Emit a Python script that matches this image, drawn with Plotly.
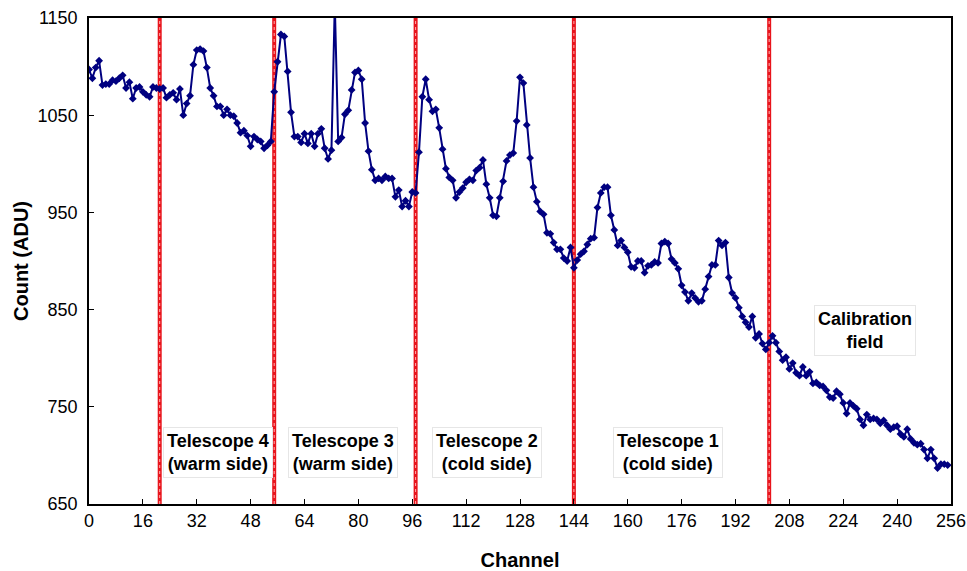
import plotly.graph_objects as go

# Count (ADU) per channel 0..255
counts = [
    1097, 1088, 1099, 1106, 1081, 1082, 1082, 1086, 1085, 1088,
    1091, 1078, 1084, 1067, 1078, 1079, 1074, 1071, 1069, 1079,
    1078, 1077, 1078, 1068, 1071, 1073, 1066, 1077, 1050, 1062,
    1070, 1102, 1117, 1118, 1116, 1099, 1078, 1070, 1059, 1059,
    1050, 1056, 1050, 1049, 1042, 1032, 1034, 1029, 1018, 1028,
    1025, 1023, 1016, 1019, 1023, 1074, 1105, 1133, 1131, 1095,
    1053, 1028, 1028, 1022, 1031, 1021, 1031, 1018, 1031, 1036,
    1016, 1005, 1014, 1165, 1023, 1027, 1051, 1055, 1076, 1094,
    1096, 1087, 1042, 1013, 994, 983, 985, 983, 987, 985,
    985, 966, 973, 956, 962, 956, 971, 970, 1012, 1069,
    1087, 1066, 1054, 1056, 1037, 1015, 995, 986, 983, 965,
    971, 975, 981, 984, 983, 993, 996, 1004, 979, 965,
    947, 946, 965, 982, 1003, 1009, 1011, 1044, 1089, 1083,
    1040, 1006, 976, 961, 951, 948, 929, 928, 919, 912,
    912, 903, 900, 914, 893, 901, 907, 910, 917, 923,
    924, 955, 970, 976, 976, 947, 932, 916, 921, 914,
    909, 894, 893, 900, 900, 888, 895, 896, 899, 898,
    918, 920, 918, 902, 898, 892, 875, 868, 859, 867,
    862, 858, 859, 871, 884, 896, 896, 921, 916, 919,
    883, 867, 862, 852, 843, 837, 832, 843, 821, 825,
    815, 809, 816, 823, 816, 807, 798, 801, 789, 795,
    785, 782, 791, 782, 786, 774, 775, 772, 771, 767,
    760, 759, 766, 763, 754, 743, 754, 751, 748, 737,
    731, 742, 737, 738, 737, 733, 736, 731, 727, 729,
    730, 722, 719, 727, 717, 713, 711, 712, 706, 697,
    706, 697, 687, 691, 691, 690,
]
channels = list(range(len(counts)))

boundaries = [21, 55, 97, 144, 202]

region_labels = [
    "Telescope 4<br>(warm side)",
    "Telescope 3<br>(warm side)",
    "Telescope 2<br>(cold side)",
    "Telescope 1<br>(cold side)",
    "Calibration<br>field",
]
label_x = [38.3, 75.4, 118.2, 172.0, 230.5]
label_y = [703, 703, 703, 703, 829]

x_ticks = list(range(0, 257, 16))
y_ticks = [650, 750, 850, 950, 1050, 1150]

FONT = "Liberation Sans, Arial, sans-serif"

fig = go.Figure()

fig.add_trace(go.Scatter(
    x=channels, y=counts, mode="lines+markers",
    line=dict(color="#000080", width=2),
    marker=dict(symbol="diamond", size=6, color="#000080"),
    showlegend=False,
))

for b in boundaries:
    fig.add_shape(type="line", x0=b, x1=b, xref="x", yref="paper", y0=0, y1=1,
                  line=dict(color="#e8141c", width=4), layer="below")
    fig.add_shape(type="line", x0=b, x1=b, xref="x", yref="paper", y0=0, y1=1,
                  line=dict(color="#ffb0b0", width=1, dash="dot"), layer="below")

for txt, lx, ly in zip(region_labels, label_x, label_y):
    fig.add_annotation(x=lx, y=ly, xref="x", yref="y", text="<b>" + txt + "</b>",
                       showarrow=False, font=dict(family=FONT, size=18, color="black"),
                       bgcolor="white", bordercolor="#e6e6e6", borderwidth=1,
                       borderpad=3)

fig.update_layout(
    width=967, height=571,
    margin=dict(l=89, r=16, t=18, b=67),
    paper_bgcolor="white", plot_bgcolor="white",
    font=dict(family=FONT, size=18, color="black"),
)

fig.update_xaxes(
    range=[0, 256], tickvals=x_ticks, ticktext=[str(t) for t in x_ticks],
    showgrid=False, zeroline=False, automargin=False,
    showline=True, linecolor="black", linewidth=1.5, mirror=True,
    ticks="inside", ticklen=5, tickcolor="black",
    tickfont=dict(family=FONT, size=18),
    title=dict(text="<b>Channel</b>", font=dict(family=FONT, size=20), standoff=26),
)
fig.update_yaxes(
    range=[650, 1150], tickvals=y_ticks, ticktext=[str(t) for t in y_ticks],
    showgrid=False, zeroline=False, automargin=False,
    showline=True, linecolor="black", linewidth=1.5, mirror=True,
    ticks="inside", ticklen=5, tickcolor="black", ticklabelstandoff=6,
    tickfont=dict(family=FONT, size=18),
    title=dict(text="<b>Count (ADU)</b>", font=dict(family=FONT, size=20), standoff=4),
)

fig.write_html("out.html")
